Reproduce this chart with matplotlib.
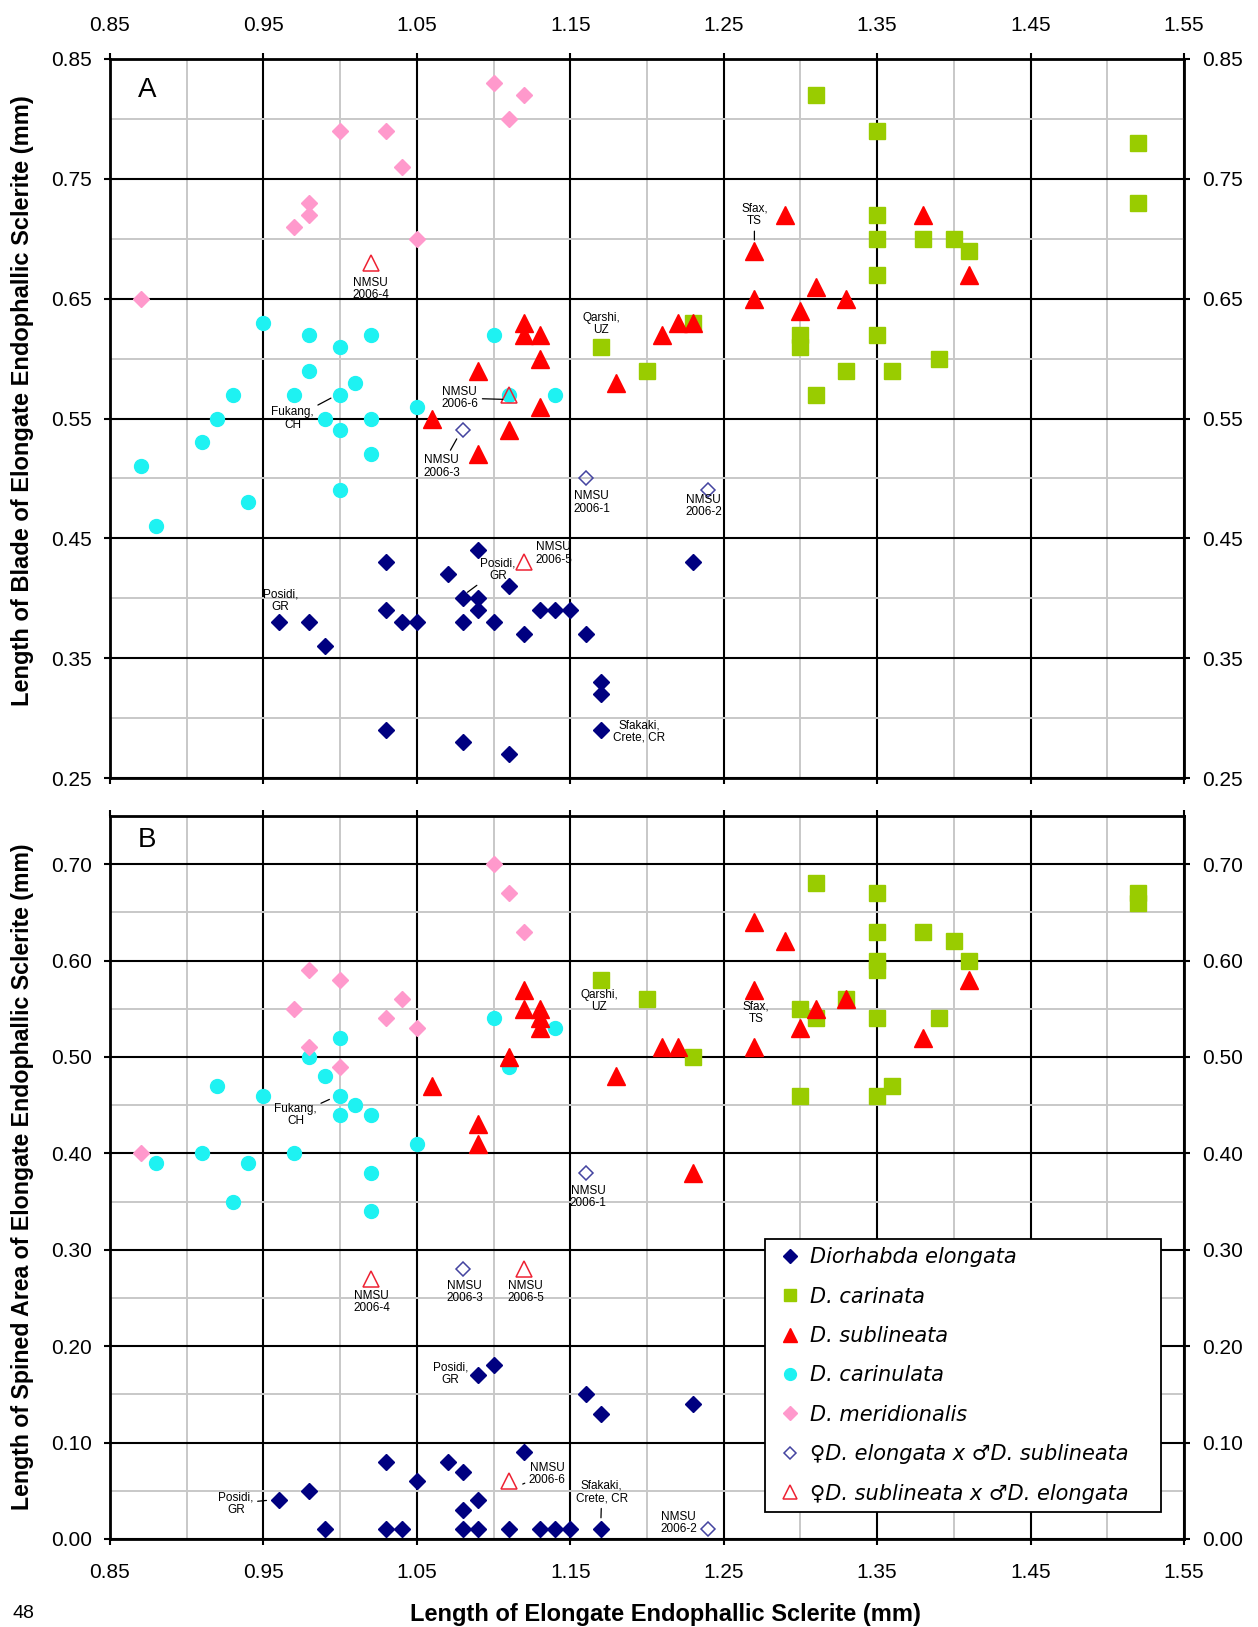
import matplotlib
matplotlib.use('Agg')
import matplotlib.pyplot as plt
import numpy as np
from matplotlib.lines import Line2D

plt.rcParams['font.family'] = ['Liberation Sans', 'DejaVu Sans']

# ---- data ----
# panel A : length of blade (mm), panel B : length of spined area (mm)
elong_a_x = [0.96, 0.98, 0.99, 1.03, 1.03, 1.03, 1.04, 1.05, 1.07, 1.08, 1.08, 1.08, 1.09, 1.09,
             1.09, 1.10, 1.11, 1.11, 1.12, 1.13, 1.14, 1.15, 1.16, 1.17, 1.17, 1.17, 1.23]
elong_a_y = [0.38, 0.38, 0.36, 0.43, 0.39, 0.29, 0.38, 0.38, 0.42, 0.40, 0.38, 0.28, 0.44, 0.40,
             0.39, 0.38, 0.41, 0.27, 0.37, 0.39, 0.39, 0.39, 0.37, 0.33, 0.32, 0.29, 0.43]
elong_b_x = [0.96, 0.98, 0.99, 1.03, 1.03, 1.04, 1.05, 1.07, 1.08, 1.08, 1.08, 1.09, 1.09, 1.09,
             1.10, 1.11, 1.12, 1.13, 1.14, 1.15, 1.16, 1.17, 1.17, 1.23]
elong_b_y = [0.04, 0.05, 0.01, 0.08, 0.01, 0.01, 0.06, 0.08, 0.07, 0.03, 0.01, 0.17, 0.04, 0.01,
             0.18, 0.01, 0.09, 0.01, 0.01, 0.01, 0.15, 0.13, 0.01, 0.14]

carin_a_x = [1.17, 1.20, 1.23, 1.30, 1.30, 1.31, 1.31, 1.33, 1.35, 1.35, 1.35, 1.35, 1.35, 1.36,
             1.38, 1.39, 1.40, 1.41, 1.52, 1.52]
carin_a_y = [0.61, 0.59, 0.63, 0.62, 0.61, 0.82, 0.57, 0.59, 0.79, 0.72, 0.70, 0.67, 0.62, 0.59,
             0.70, 0.60, 0.70, 0.69, 0.78, 0.73]
carin_b_x = [1.17, 1.20, 1.23, 1.30, 1.30, 1.31, 1.31, 1.33, 1.35, 1.35, 1.35, 1.35, 1.35, 1.35,
             1.36, 1.38, 1.39, 1.40, 1.41, 1.52, 1.52]
carin_b_y = [0.58, 0.56, 0.50, 0.55, 0.46, 0.68, 0.54, 0.56, 0.67, 0.63, 0.60, 0.59, 0.54, 0.46,
             0.47, 0.63, 0.54, 0.62, 0.60, 0.67, 0.66]

subl_a_x = [1.06, 1.09, 1.09, 1.11, 1.12, 1.12, 1.13, 1.13, 1.13, 1.18, 1.21, 1.22, 1.23, 1.27,
            1.27, 1.29, 1.30, 1.31, 1.33, 1.38, 1.41]
subl_a_y = [0.55, 0.59, 0.52, 0.54, 0.63, 0.62, 0.62, 0.60, 0.56, 0.58, 0.62, 0.63, 0.63, 0.69,
            0.65, 0.72, 0.64, 0.66, 0.65, 0.72, 0.67]
subl_b_x = [1.06, 1.09, 1.09, 1.11, 1.12, 1.12, 1.13, 1.13, 1.13, 1.18, 1.21, 1.22, 1.23, 1.27,
            1.27, 1.27, 1.29, 1.30, 1.31, 1.33, 1.38, 1.41]
subl_b_y = [0.47, 0.43, 0.41, 0.50, 0.57, 0.55, 0.55, 0.54, 0.53, 0.48, 0.51, 0.51, 0.38, 0.64,
            0.57, 0.51, 0.62, 0.53, 0.55, 0.56, 0.52, 0.58]

cnl_a_x = [0.87, 0.88, 0.91, 0.92, 0.93, 0.94, 0.95, 0.97, 0.98, 0.98, 0.99, 1.00, 1.00, 1.00,
           1.00, 1.01, 1.02, 1.02, 1.02, 1.05, 1.10, 1.11, 1.14]
cnl_a_y = [0.51, 0.46, 0.53, 0.55, 0.57, 0.48, 0.63, 0.57, 0.62, 0.59, 0.55, 0.61, 0.57, 0.54,
           0.49, 0.58, 0.62, 0.55, 0.52, 0.56, 0.62, 0.57, 0.57]
cnl_b_x = [0.88, 0.91, 0.92, 0.93, 0.94, 0.95, 0.97, 0.98, 0.99, 1.00, 1.00, 1.00, 1.01, 1.02,
           1.02, 1.02, 1.05, 1.10, 1.11, 1.14]
cnl_b_y = [0.39, 0.40, 0.47, 0.35, 0.39, 0.46, 0.40, 0.50, 0.48, 0.52, 0.46, 0.44, 0.45, 0.44,
           0.38, 0.34, 0.41, 0.54, 0.49, 0.53]

mer_a_x = [0.87, 0.97, 0.98, 0.98, 1.00, 1.03, 1.04, 1.05, 1.10, 1.11, 1.12]
mer_a_y = [0.65, 0.71, 0.73, 0.72, 0.79, 0.79, 0.76, 0.70, 0.83, 0.80, 0.82]
mer_b_x = [0.87, 0.97, 0.98, 0.98, 1.00, 1.00, 1.03, 1.04, 1.05, 1.10, 1.11, 1.12]
mer_b_y = [0.40, 0.55, 0.59, 0.51, 0.58, 0.49, 0.54, 0.56, 0.53, 0.70, 0.67, 0.63]

# hybrids: female elongata x male sublineata (NMSU 2006-1..3)
hyb_es_x = [1.16, 1.24, 1.08]
hyb_es_a_y = [0.50, 0.49, 0.54]
hyb_es_b_y = [0.38, 0.01, 0.28]
# hybrids: female sublineata x male elongata (NMSU 2006-4..6)
hyb_se_x = [1.02, 1.12, 1.11]
hyb_se_a_y = [0.68, 0.43, 0.57]
hyb_se_b_y = [0.27, 0.28, 0.06]

# point labels: (text, text x, text y, leader end or None)
labels_a = [
    ('Sfax,\nTS', 1.27, 0.720, (1.27, 0.699)),
    ('Qarshi,\nUZ', 1.17, 0.629, None),
    ('NMSU\n2006-4', 1.02, 0.658, None),
    ('NMSU\n2006-6', 1.078, 0.567, (1.106, 0.566)),
    ('Fukang,\nCH', 0.969, 0.550, (0.994, 0.567)),
    ('NMSU\n2006-3', 1.066, 0.510, (1.076, 0.533)),
    ('NMSU\n2006-1', 1.164, 0.480, None),
    ('NMSU\n2006-2', 1.237, 0.477, None),
    ('NMSU\n2006-5', 1.139, 0.4375, None),
    ('Posidi,\nGR', 1.103, 0.424, (1.083, 0.405)),
    ('Posidi,\nGR', 0.961, 0.398, None),
    ('Sfakaki,\nCrete, CR', 1.195, 0.289, None),
]
labels_b = [
    ('Qarshi,\nUZ', 1.169, 0.558, None),
    ('Sfax,\nTS', 1.271, 0.546, None),
    ('Fukang,\nCH', 0.971, 0.440, (0.993, 0.456)),
    ('NMSU\n2006-1', 1.1615, 0.3545, None),
    ('NMSU\n2006-4', 1.0205, 0.246, None),
    ('NMSU\n2006-3', 1.081, 0.256, None),
    ('NMSU\n2006-5', 1.121, 0.256, None),
    ('Posidi,\nGR', 1.072, 0.171, None),
    ('NMSU\n2006-6', 1.135, 0.0677, (1.119, 0.057)),
    ('Sfakaki,\nCrete, CR', 1.1705, 0.0487, (1.17, 0.022)),
    ('Posidi,\nGR', 0.932, 0.037, (0.952, 0.040)),
    ('NMSU\n2006-2', 1.2206, 0.0164, None),
]

legend_names = ['Diorhabda elongata', 'D. carinata', 'D. sublineata', 'D. carinulata',
                'D. meridionalis', '\u2640D. elongata x \u2642D. sublineata',
                '\u2640D. sublineata x \u2642D. elongata']

NAVY = '#000080'
GREEN = '#99CC00'
RED = '#FF0000'
CYAN = '#1EF2F2'
PINK = '#FF99CC'
HYB_BLUE = '#4444A0'
HYB_RED = '#EE2233'

styles = [
    dict(marker='D', ms=8.2, color=NAVY, ls='none'),
    dict(marker='s', ms=11, color=GREEN, ls='none'),
    dict(marker='^', ms=12.5, color=RED, ls='none'),
    dict(marker='o', ms=10, color=CYAN, ls='none'),
    dict(marker='D', ms=8.2, color=PINK, ls='none'),
    dict(marker='D', ms=7.6, mfc='none', mec=HYB_BLUE, mew=1.1, ls='none'),
    dict(marker='^', ms=12, mfc='none', mec=HYB_RED, mew=1.1, ls='none'),
]

fig = plt.figure(figsize=(12.58, 16.27), dpi=100)
W, H = 1258.0, 1627.0
ax_a = fig.add_axes([110 / W, 1 - 778 / H, 1074 / W, 719 / H])
ax_b = fig.add_axes([110 / W, 1 - 1539 / H, 1074 / W, 723 / H])


def setup(ax, ylo, yhi, top):
    ax.set_xlim(0.85, 1.55)
    ax.set_ylim(ylo, yhi)
    ax.set_xticks(np.arange(0.85, 1.551, 0.1))
    ax.set_xticks(np.arange(0.90, 1.51, 0.1), minor=True)
    ax.set_yticks(np.arange(ylo, yhi + 0.001, 0.1))
    ax.set_yticks(np.arange(ylo + 0.05, yhi, 0.1), minor=True)
    ax.xaxis.set_major_formatter(matplotlib.ticker.FormatStrFormatter('%.2f'))
    ax.yaxis.set_major_formatter(matplotlib.ticker.FormatStrFormatter('%.2f'))
    ax.grid(which='minor', color='#c8c8c8', lw=1.4, zorder=0)
    ax.grid(which='major', color='black', lw=1.5, zorder=1)
    ax.set_axisbelow(True)
    for s in ax.spines.values():
        s.set_linewidth(2)
    ax.tick_params(which='major', direction='out', length=4, width=1.5, labelsize=15,
                   left=True, right=True, top=True, bottom=True,
                   labelleft=True, labelright=True, labeltop=top, labelbottom=not top)
    ax.tick_params(axis='y', which='major', pad=9)
    ax.tick_params(axis='x', which='major', pad=13)
    ax.tick_params(which='minor', length=0)


setup(ax_a, 0.25, 0.85, True)
setup(ax_b, 0.0, 0.75, False)

series_a = [(elong_a_x, elong_a_y), (carin_a_x, carin_a_y), (subl_a_x, subl_a_y),
            (cnl_a_x, cnl_a_y), (mer_a_x, mer_a_y), (hyb_es_x, hyb_es_a_y), (hyb_se_x, hyb_se_a_y)]
series_b = [(elong_b_x, elong_b_y), (carin_b_x, carin_b_y), (subl_b_x, subl_b_y),
            (cnl_b_x, cnl_b_y), (mer_b_x, mer_b_y), (hyb_es_x, hyb_es_b_y), (hyb_se_x, hyb_se_b_y)]

# draw order: carinulata under the hybrid triangle etc.
order = [3, 4, 0, 1, 2, 5, 6]
for ax, series in ((ax_a, series_a), (ax_b, series_b)):
    for i in order:
        x, y = series[i]
        ax.plot(x, y, zorder=3 + order.index(i) * 0.1, **styles[i])

for ax, labs in ((ax_a, labels_a), (ax_b, labels_b)):
    for txt, tx, ty, lead in labs:
        if lead is None:
            ax.text(tx, ty, txt, fontsize=8.5, ha='center', va='center', linespacing=1.05, zorder=5)
        else:
            ax.annotate(txt, xy=lead, xytext=(tx, ty), fontsize=8.5, ha='center', va='center',
                        linespacing=1.05, zorder=5,
                        arrowprops=dict(arrowstyle='-', color='black', lw=0.9, shrinkA=1, shrinkB=0))

ax_a.text(0.874, 0.824, 'A', fontsize=20, ha='center', va='center')
ax_b.text(0.874, 0.725, 'B', fontsize=20, ha='center', va='center')

handles = [Line2D([], [], **st) for st in styles]
leg = ax_b.legend(handles, legend_names, loc='upper left', mode='expand',
                  bbox_to_anchor=(0.6099, 0.0, 0.3687, 0.415),
                  frameon=True, fancybox=False, framealpha=1, edgecolor='black',
                  handlelength=1.6, handletextpad=0.15, labelspacing=0.93, borderpad=0.4,
                  borderaxespad=0, markerscale=0.85,
                  prop=dict(family='DejaVu Sans', style='italic', size=15))
leg.get_frame().set_linewidth(1.3)
leg.set_zorder(10)

fig.text(23 / W, 1 - 401 / H, 'Length of Blade of Elongate Endophallic Sclerite (mm)',
         rotation=90, ha='center', va='center', fontsize=17, fontweight='bold')
fig.text(23 / W, 1 - 1177 / H, 'Length of Spined Area of Elongate Endophallic Sclerite (mm)',
         rotation=90, ha='center', va='center', fontsize=16.7, fontweight='bold')
fig.text(665 / W, 1 - 1614 / H, 'Length of Elongate Endophallic Sclerite (mm)',
         ha='center', va='center', fontsize=17, fontweight='bold')
fig.text(23 / W, 1 - 1614 / H, '48', ha='center', va='center', fontsize=14)

fig.savefig('out.png', dpi=100)
